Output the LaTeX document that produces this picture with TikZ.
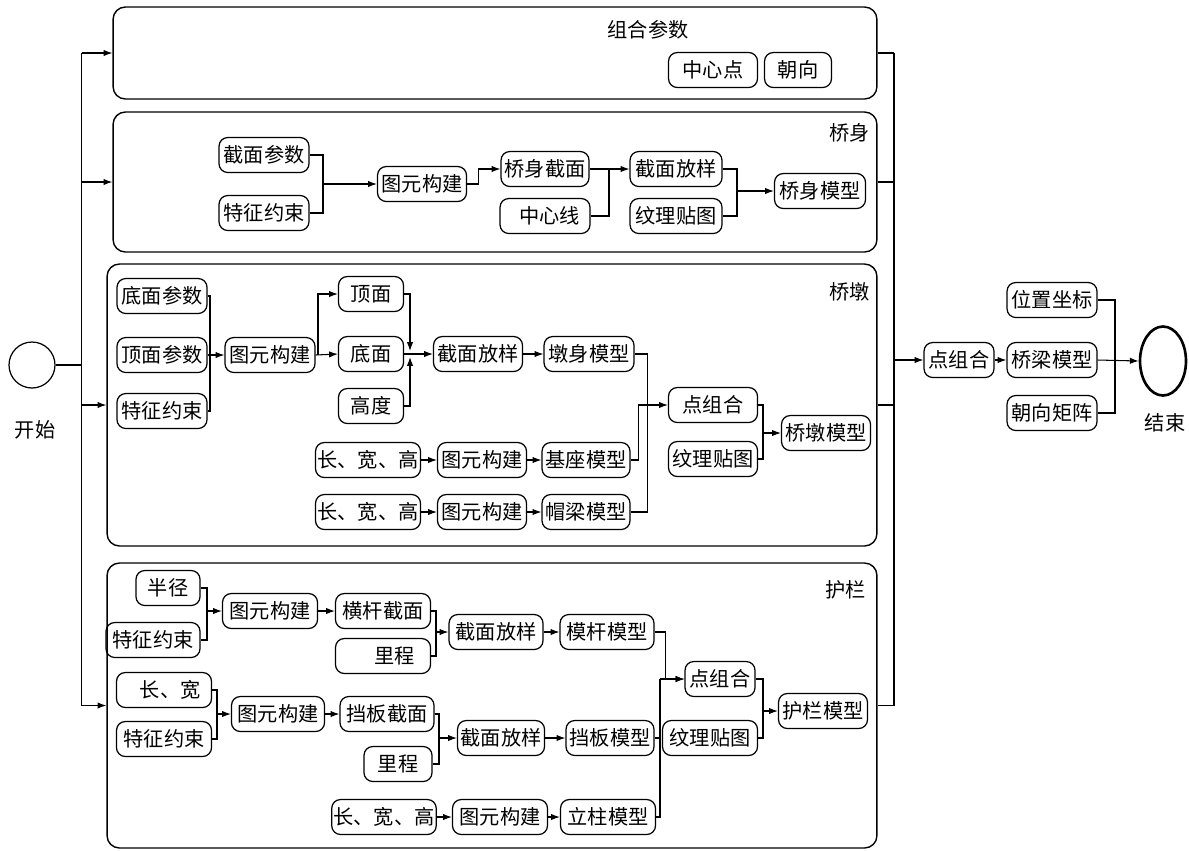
\documentclass[tikz,border=0pt]{standalone}
\usepackage{fontspec}
\newfontfamily\cjk{Noto Sans CJK SC}
\usetikzlibrary{shapes,arrows}
\usetikzlibrary{arrows.meta,positioning,shapes.geometric}

\begin{document}
\begin{tikzpicture}[
    x=0.02cm, y=-0.02cm,
    line width=0.6pt,
    every node/.style={font=\cjk\fontsize{11.5}{13}\selectfont},
    blk/.style={
        draw,
        rounded corners=5pt,
        line width=0.7pt,
        minimum width=1.8cm,
        minimum height=0.7cm,
        inner sep=1pt
    },
    rblk/.style={blk, align=right},
    grp/.style={
        draw,
        rounded corners=7pt,
        line width=0.8pt,
        inner sep=0pt,
        minimum width=15.4cm
    },
    title/.style={anchor=east, inner sep=0pt},
    >={Latex[length=5pt,width=3.6pt]}
    ]
    \useasboundingbox (0,0) rectangle (1189,850);

    % groups
    \node[grp, minimum width=15.28cm, minimum height=1.84cm] (Combo) at (495,53) {};
    \node[grp, minimum width=15.28cm, minimum height=2.8cm] (Body) at (495,182) {};
    \node[grp, minimum height=5.64cm] (Pier) at (492,405) {};
    \node[grp, minimum height=5.7cm] (Rail) at (492,705.5) {};

    \node (ComboTitle) at (648,30) {组合参数};
    \node[title] (BodyTitle) at (870,133) {桥身};
    \node[title] (PierTitle) at (870,292) {桥墩};
    \node[title] (RailTitle) at (866,590) {护栏};

    \node[circle, draw, line width=0.7pt, minimum size=0.92cm] (Start) at (32,365) {};
    \node (StartText) at (35,430) {开始};
    \node[ellipse, draw, line width=1.5pt, minimum width=0.92cm, minimum height=1.38cm] (End) at (1163,361) {};
    \node (EndText) at (1165,423) {结束};

    % 组合参数
    \node[blk, minimum width=1.78cm] (Center) at (713,70) {中心点};
    \node[blk, minimum width=1.34cm] (Heading) at (798,70) {朝向};

    % 桥身
    \node[blk] (BodyParam) at (264,155) {截面参数};
    \node[blk] (BodyCons) at (264,213) {特征约束};
    \node[blk, minimum width=1.78cm] (BodyPrim) at (422,184) {图元构建};
    \node[blk, minimum width=1.76cm] (BodySec) at (545,169) {桥身截面};
    \node[rblk, text width=1.4cm, inner xsep=0.18cm] (BodyAxis) at (545,216) {中心线};
    \node[blk, minimum width=1.84cm] (BodyLoft) at (676,169) {截面放样};
    \node[blk, minimum width=1.84cm] (BodyTex) at (676,216) {纹理贴图};
    \node[blk, minimum width=1.82cm] (BodyModel) at (820,191) {桥身模型};

    % 桥墩
    \node[blk] (PierBase) at (162,296) {底面参数};
    \node[blk] (PierTopP) at (162,355) {顶面参数};
    \node[blk] (PierCons) at (162,411) {特征约束};
    \node[blk] (PierPrim) at (270,355) {图元构建};
    \node[blk, minimum width=1.3cm] (PierTop) at (371,294) {顶面};
    \node[blk, minimum width=1.3cm] (PierBot) at (371,354) {底面};
    \node[blk, minimum width=1.3cm] (PierHt) at (371,406) {高度};
    \node[blk, minimum width=1.78cm] (PierLoft) at (478,354) {截面放样};
    \node[blk] (PierShaft) at (589,354) {墩身模型};
    \node[blk, minimum width=2.1cm] (FootDim) at (368,460) {长、宽、高};
    \node[blk, minimum width=1.78cm] (FootPrim) at (482,460) {图元构建};
    \node[blk, minimum width=1.76cm] (FootModel) at (586,460) {基座模型};
    \node[blk, minimum width=2.1cm] (CapDim) at (368,512) {长、宽、高};
    \node[blk, minimum width=1.78cm] (CapPrim) at (482,512) {图元构建};
    \node[blk, minimum width=1.76cm] (CapModel) at (586,512) {帽梁模型};
    \node[blk, minimum width=1.78cm] (PierJoin) at (713,405) {点组合};
    \node[blk, minimum width=1.78cm] (PierTex) at (713,459) {纹理贴图};
    \node[blk, minimum width=1.78cm] (PierModel) at (826,433) {桥墩模型};

    % 护栏
    \node[blk, minimum width=1.28cm] (BarR) at (168,588) {半径};
    \node[blk, minimum width=1.88cm] (BarCons) at (153,640) {特征约束};
    \node[blk, minimum width=1.9cm] (BarPrim) at (270,611) {图元构建};
    \node[blk, minimum width=1.9cm] (BarSec) at (383,611) {横杆截面};
    \node[rblk, text width=1.26cm, inner xsep=0.32cm] (BarMile) at (383,656) {里程};
    \node[blk, minimum width=1.88cm] (BarLoft) at (496,632) {截面放样};
    \node[blk, minimum width=1.88cm] (BarModel) at (607,632) {模杆模型};
    \node[rblk, text width=1.46cm, inner xsep=0.22cm] (PlateWH) at (164,690) {长、宽};
    \node[blk, minimum width=1.9cm] (PlateCons) at (164,739) {特征约束};
    \node[blk, minimum width=1.86cm] (PlatePrim) at (278,714) {图元构建};
    \node[blk, minimum width=1.88cm] (PlateSec) at (387,714) {挡板截面};
    \node[blk, minimum width=1.36cm] (PlateMile) at (398,764) {里程};
    \node[blk, minimum width=1.74cm] (PlateLoft) at (501,738) {截面放样};
    \node[blk, minimum width=1.76cm] (PlateModel) at (610,738) {挡板模型};
    \node[blk, minimum width=1.88cm] (PostDim) at (384,817) {长、宽、高};
    \node[blk, minimum width=1.9cm] (PostPrim) at (500,817) {图元构建};
    \node[blk, minimum width=1.9cm] (PostModel) at (608,817) {立柱模型};
    \node[blk, minimum width=1.4cm] (RailJoin) at (720,679) {点组合};
    \node[blk, minimum width=1.9cm] (RailTex) at (710,738) {纹理贴图};
    \node[blk, minimum width=1.78cm] (RailModel) at (823,711) {护栏模型};

    % 桥梁
    \node[blk, minimum width=1.4cm] (Join) at (959,360) {点组合};
    \node[blk] (Pos) at (1052,300) {位置坐标};
    \node[blk] (Bridge) at (1052,360) {桥梁模型};
    \node[blk] (Orient) at (1052,413) {朝向矩阵};

    % buses
    \coordinate (busL) at (81.5,0);
    \coordinate (busR) at (894,0);
    \draw (Start.east) -- (Start.east -| busL);
    \draw (Combo.west -| busL) -- (Rail.west -| busL);
    \draw (Combo.east -| busR) -- (Rail.east -| busR);
    \foreach \g in {Combo,Body,Pier,Rail}{
        \draw[->] (\g.west -| busL) -- (\g.west);
        \draw (\g.east) -- (\g.east -| busR);
    }
    \draw[->] (busR |- Join.west) -- (Join.west);

    % 桥身
    \coordinate (bj1) at (323,184);
    \coordinate (bj2) at (609,169);
    \coordinate (bj3) at (737,191);
    \draw (BodyParam.east) -| (bj1) |- (BodyCons.east);
    \draw[->] (bj1) -- (BodyPrim.west);
    \draw[->] (BodyPrim.east) -- ++(11,0) |- (BodySec.west);
    \draw[->] (BodySec.east) -- (BodyLoft.west);
    \draw (BodyAxis.east) -| (bj2);
    \draw (BodyLoft.east) -| (bj3) |- (BodyTex.east);
    \draw[->] (bj3) -- (BodyModel.west);

    % 桥墩
    \coordinate (pj1) at (210,355);
    \coordinate (pj2) at (318,355);
    \coordinate (pj3a) at (410,351);
    \coordinate (pj3b) at (410,357);
    \coordinate (pj5) at (763,433);
    \draw (PierBase.east) -| (pj1) |- (PierCons.east);
    \draw[->] (PierTopP.east) -- (PierPrim.west);
    \draw[->] (PierPrim.east) -- (PierBot.west);
    \draw[->] (pj2) |- (PierTop.west);
    \draw[->] (PierTop.east) -| (pj3a);
    \draw[->] (PierHt.east) -| (pj3b);
    \draw[->] (PierBot.east) -- (PierLoft.west);
    \draw[->] (PierLoft) -- (PierShaft);
    \draw[->] (FootDim) -- (FootPrim);
    \draw[->] (FootPrim) -- (FootModel);
    \draw[->] (CapDim) -- (CapPrim);
    \draw[->] (CapPrim) -- (CapModel);
    \draw (PierShaft.east) -- ++(13,0) |- (CapModel.east);
    \draw[->] (FootModel.east) -- ++(8,0) |- (PierJoin.west);
    \draw (PierJoin.east) -| (pj5) |- (PierTex.east);
    \draw[->] (pj5) -- (PierModel.west);

    % 护栏
    \coordinate (rj1) at (207,611);
    \coordinate (rj2) at (436,632);
    \coordinate (rj3) at (217,714);
    \coordinate (rj4) at (439,738);
    \coordinate (rj5) at (660,679);
    \coordinate (rj6) at (763,711);
    \draw (BarR.east) -| (rj1) |- (BarCons.east);
    \draw[->] (rj1) -- (BarPrim.west);
    \draw[->] (BarPrim) -- (BarSec);
    \draw (BarSec.east) -| (rj2) |- (BarMile.east);
    \draw[->] (rj2) -- (BarLoft.west);
    \draw[->] (BarLoft) -- (BarModel);
    \draw (PlateWH.east) -| (rj3) |- (PlateCons.east);
    \draw[->] (rj3) -- (PlatePrim.west);
    \draw[->] (PlatePrim) -- (PlateSec);
    \draw (PlateSec.east) -| (rj4) |- (PlateMile.east);
    \draw[->] (rj4) -- (PlateLoft.west);
    \draw[->] (PlateLoft) -- (PlateModel);
    \draw[->] (PostDim) -- (PostPrim);
    \draw[->] (PostPrim) -- (PostModel);
    \draw[->] (BarModel.east) -- ++(11,0) |- (RailJoin.west);
    \draw (PostModel.east) -| (rj5);
    \draw (PlateModel.east) -- (PlateModel.east -| rj5);
    \draw[->] (rj5) -- (RailJoin.west);
    \draw (RailJoin.east) -| (rj6) |- (RailTex.east);
    \draw[->] (rj6) -- (RailModel.west);

    % 桥梁
    \coordinate (fj) at (1115,360);
    \draw (Pos.east) -| (fj) |- (Orient.east);
    \draw[->] (Join) -- (Bridge);
    \draw[->] (Bridge.east) -- (End.west);
\end{tikzpicture}
\end{document}
